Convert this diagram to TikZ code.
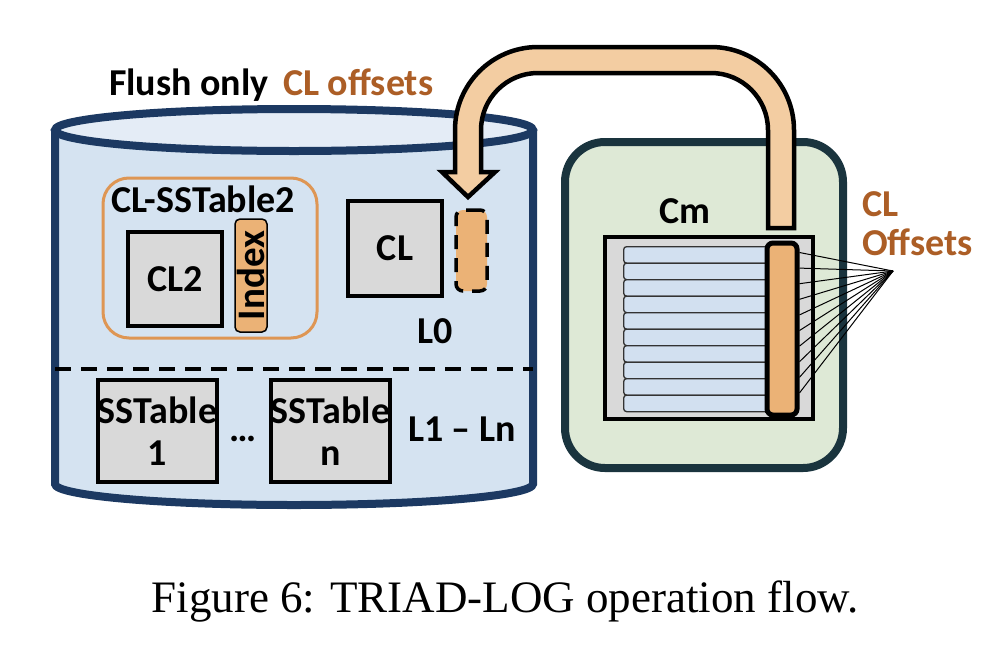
\documentclass[tikz,border=0pt]{standalone}
\usepackage{fontspec}
\setmainfont{Carlito}
\newfontfamily\capfont{Liberation Serif}
\usetikzlibrary{calc}
\definecolor{navy}{RGB}{28,57,98}
\definecolor{cylfill}{RGB}{213,227,241}
\definecolor{cyltop}{RGB}{228,236,246}
\definecolor{teal}{RGB}{26,52,62}
\definecolor{greenfill}{RGB}{222,233,214}
\definecolor{boxgray}{RGB}{217,217,217}
\definecolor{orfill}{RGB}{235,178,118}
\definecolor{orline}{RGB}{222,150,84}
\definecolor{brown}{RGB}{172,94,38}
\definecolor{arrowfill}{RGB}{243,205,162}
\definecolor{rowfill}{RGB}{210,224,240}
\tikzset{
  lbl/.style={font=\fontsize{38}{44}\selectfont\bfseries, inner sep=0pt},
  graybox/.style={draw=black, line width=3.5pt, fill=boxgray, inner sep=0pt, font=\fontsize{38}{44}\selectfont\bfseries, align=center},
  orbox/.style={draw=black, fill=orfill, rounded corners=5pt, inner sep=0pt},
  rowbox/.style={draw=black!80, line width=1.3pt, fill=rowfill, rounded corners=3pt, minimum width=150pt, minimum height=16.5pt, inner sep=0pt, anchor=north west},
}
\begin{document}
\begin{tikzpicture}[x=1pt,y=-1pt]
\useasboundingbox (0,0) rectangle (1004,646);
\fill[white] (0,0) rectangle (1004,646);

% cylinder
\fill[cylfill] (55,130) -- (55,484) arc[start angle=180,end angle=360,x radius=239pt,y radius=21pt] -- (533,130) -- cycle;
\draw[navy, line width=8pt] (55,130) -- (55,484) arc[start angle=180,end angle=360,x radius=239pt,y radius=21pt] -- (533,130);
\draw[navy, line width=8pt, fill=cyltop] (294,130) ellipse [x radius=239pt, y radius=21pt];

% labels on top
\node[lbl, anchor=base west] (flush) at (109,95) {Flush only};
\node[lbl, anchor=base west, text=brown] (cloff) at (283,95) {CL offsets};

% CL-SSTable2 group
\draw[orline, line width=3pt, rounded corners=26pt] (103,178) rectangle (317,338);
\node[lbl, anchor=base] (clsst) at (203,212) {CL-SSTable2};
\node[graybox, minimum width=94pt, minimum height=94pt] (cl2) at (175,279) {CL2};
\node[orbox, line width=1.5pt, rotate=90, minimum width=113pt, minimum height=32pt, font=\fontsize{39}{44}\selectfont\bfseries] (index) at (251,275.5) {Index};

% CL and dashed box
\node[graybox, minimum width=94pt, minimum height=95pt] (cl) at (395,248.5) {CL};
\node[orbox, dashed, dash pattern=on 14pt off 9pt, line width=3.5pt, minimum width=31pt, minimum height=81pt, rounded corners=7pt] (dash) at (471.5,250.5) {};
\node[lbl, anchor=base] (l0) at (435,343) {L0};

% level separator
\draw[black, line width=4pt, dash pattern=on 16pt off 10pt] (55,369) -- (533,369);

% SSTables
\node[graybox, minimum width=119pt, minimum height=102pt] (ss1) at (157.5,431) {SSTable\\[-2pt]1};
\node[graybox, minimum width=119pt, minimum height=102pt] (ssn) at (330.5,431) {SSTable\\[-2pt]n};
\node[lbl, anchor=base] (dots) at (243,441) {…};
\node[lbl, anchor=base] (lln) at (462,441) {L1 – Ln};

% memory component
\draw[teal, line width=8pt, fill=greenfill, rounded corners=40pt] (565,142) rectangle (843,468);
\node[lbl, anchor=base] (cm) at (685,223) {Cm};
\draw[black, line width=3.5pt, fill=boxgray] (605,237) rectangle (813,419);
\foreach \i in {0,...,9} {
  \node[rowbox] (r\i) at (623,{246+16.5*\i}) {};
}
\node[draw=black, line width=5pt, fill=orfill, rounded corners=6pt, minimum width=30pt, minimum height=172pt, inner sep=0pt] (bar) at (782,329) {};

% fan lines
\coordinate (fan) at (893,271);
\foreach \i in {0,...,9} {
  \draw[black, line width=1pt] ($(bar.north east)+(0,{12+15.6*\i})$) -- (fan);
}
\node[lbl, anchor=base west, text=brown] (clo1) at (862,216) {CL};
\node[lbl, anchor=base west, text=brown] (clo2) at (862,255) {Offsets};

% big U arrow
\draw[black, line width=4.5pt, fill=arrowfill, line join=miter]
  (794,228) -- (794,130) arc[start angle=0,end angle=90,radius=83pt]
  -- (538,47) arc[start angle=90,end angle=180,radius=83pt]
  -- (455,172) -- (442,172) -- (468,197) -- (495,172) -- (481,172)
  -- (481,130) arc[start angle=180,end angle=90,radius=57pt]
  -- (711,73) arc[start angle=90,end angle=0,radius=57pt]
  -- (768,228) -- cycle;

% caption
\node[font=\capfont\fontsize{45}{54}\selectfont, anchor=base, inner sep=0pt] (cap) at (505,612) {Figure 6: TRIAD-LOG operation flow.};
\end{tikzpicture}
\end{document}
